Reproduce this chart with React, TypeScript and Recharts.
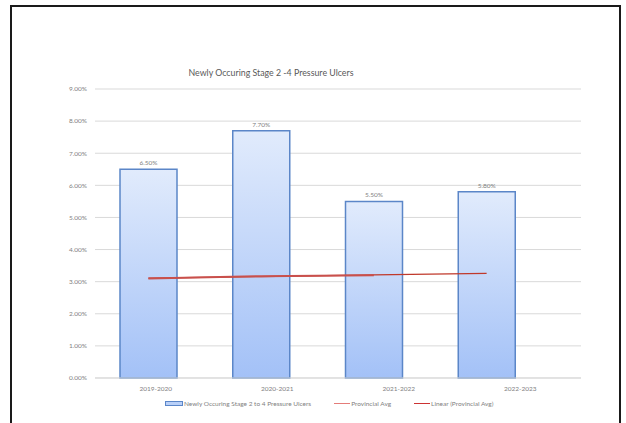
import { ComposedChart, Bar, Line, XAxis, YAxis, CartesianGrid, LabelList } from 'recharts';

const YEARS = ['2019-2020', '2020-2021', '2021-2022', '2022-2023'];
const ULCERS = [6.5, 7.7, 5.5, 5.8];
const PROV_AVG = [3.1, 3.17, 3.2, null];
const PROV_TREND = [3.11, 3.16, 3.21, 3.26];
const Y_TICKS = [0, 1, 2, 3, 4, 5, 6, 7, 8, 9];

const FONT = 'Lato, "Open Sans", sans-serif';
const GREY = '#7f7f7f';

const data = YEARS.map((year, i) => ({
  year,
  ulcers: ULCERS[i],
  avg: PROV_AVG[i],
  trend: PROV_TREND[i],
}));

const pct = (v: number) => `${Number(v).toFixed(2)}%`;

function LegendRow() {
  const item = { display: 'flex', alignItems: 'center', marginRight: 23 } as const;
  const line = (c: string) => ({ display: 'inline-block', width: 16, height: 1.5, background: c, marginRight: 1 });
  return (
    <div
      style={{
        position: 'absolute', top: 400, left: 165, display: 'flex', alignItems: 'center',
        fontFamily: FONT, fontSize: 6.5, color: GREY, whiteSpace: 'nowrap',
      }}
    >
      <div style={item}>
        <span style={{ display: 'inline-block', width: 16, height: 3, border: '1px solid #5b86c8', background: '#b9d0f8', marginRight: 1 }} />
        Newly Occuring Stage 2 to 4 Pressure Ulcers
      </div>
      <div style={item}>
        <span style={line('#e47c79')} />
        Provincial Avg
      </div>
      <div style={item}>
        <span style={line('#cc3333')} />
        Linear (Provincial Avg)
      </div>
    </div>
  );
}

export default function App() {
  return (
    <div style={{ position: 'absolute', left: 0, top: 0, width: 626, height: 423, overflow: 'hidden', background: '#fff' }}>
      <div style={{ position: 'absolute', left: 0, top: 0 }}>
        <ComposedChart width={626} height={423} data={data} margin={{ top: 89, right: 45, left: 0, bottom: 25 }}>
          <defs>
            <linearGradient id="barFill" x1="0" y1="0" x2="0" y2="1">
              <stop offset="0%" stopColor="#e1ebfc" />
              <stop offset="100%" stopColor="#a3c1f7" />
            </linearGradient>
          </defs>
          <text x={271} y={76} textAnchor="middle" fontFamily={FONT} fontSize={8.8} fill="#595959">
            Newly Occuring Stage 2  -4 Pressure Ulcers
          </text>
          <CartesianGrid vertical={false} stroke="#d9d9d9" strokeWidth={1} />
          <XAxis
            xAxisId="cat" dataKey="year" height={20} axisLine={{ stroke: '#d9d9d9' }} tickLine={false}
            tickMargin={2} tick={{ fontSize: 6.5, fill: GREY, fontFamily: FONT }}
          />
          <XAxis xAxisId="bars" dataKey="year" hide height={0} padding={{ left: -3, right: 38 }} />
          <YAxis
            width={95} domain={[0, 9]} ticks={Y_TICKS} tickFormatter={pct} axisLine={false} tickLine={false}
            tickMargin={2} tick={{ fontSize: 6.5, fill: GREY, fontFamily: FONT }}
          />
          <Bar xAxisId="bars" dataKey="ulcers" barSize={57} fill="url(#barFill)" stroke="#5b86c8" strokeWidth={1.5} isAnimationActive={false}>
            <LabelList dataKey="ulcers" position="top" offset={4} formatter={(v: any) => pct(v)} style={{ fontSize: 6.5, fill: GREY, fontFamily: FONT }} />
          </Bar>
          <Line xAxisId="bars" dataKey="trend" stroke="#c0392b" strokeWidth={1.2} dot={false} isAnimationActive={false} />
          <Line xAxisId="bars" dataKey="avg" stroke="#c9504c" strokeWidth={2} dot={false} connectNulls={false} isAnimationActive={false} />
        </ComposedChart>
      </div>
      <LegendRow />
      <div style={{ position: 'absolute', left: 10, top: 5, width: 607, height: 440, border: '2px solid #1a1a1a', pointerEvents: 'none' }} />
    </div>
  );
}
